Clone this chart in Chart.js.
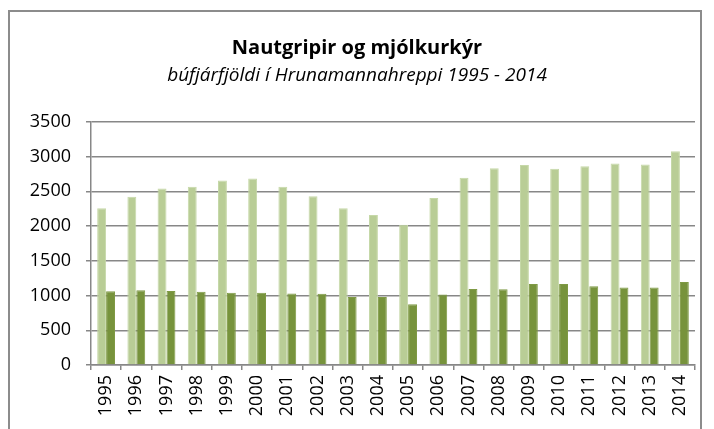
<!DOCTYPE html>
<html>
<head>
<meta charset="utf-8">
<script src="https://cdn.jsdelivr.net/npm/chart.js@4"></script>
<style>
  html, body { margin: 0; padding: 0; background: #fff; }
  #wrap { position: relative; width: 714px; height: 429px; }
  #frame { position: absolute; left: 8px; top: 10px; width: 694px; height: 430px;
           border: 2px solid #8c8c8c; border-bottom: none; box-sizing: border-box; }
  canvas { position: absolute; left: 0; top: 0; }
</style>
</head>
<body>
<div id="wrap">
  <div id="frame"></div>
  <canvas id="chart" width="714" height="429"></canvas>
</div>
<script>
var years = ['1995','1996','1997','1998','1999','2000','2001','2002','2003','2004',
             '2005','2006','2007','2008','2009','2010','2011','2012','2013','2014'];
var nautgripir = [2255, 2420, 2540, 2565, 2655, 2685, 2565, 2430, 2255, 2160,
                  2020, 2405, 2695, 2830, 2880, 2825, 2860, 2900, 2885, 3075];
var mjolkurkyr = [1060, 1075, 1065, 1055, 1040, 1040, 1030, 1025, 980, 980,
                  875, 1015, 1095, 1090, 1165, 1165, 1135, 1115, 1115, 1195];
var yTicks = [0, 500, 1000, 1500, 2000, 2500, 3000, 3500];

var fontFamily = '"Open Sans", "Noto Sans", sans-serif';
var gridColor = '#878787';

document.addEventListener('DOMContentLoaded', function () {
    var ctx = document.getElementById('chart').getContext('2d');
    new Chart(ctx, {
        type: 'bar',
        data: {
            labels: years,
            datasets: [{
                label: 'Nautgripir',
                data: nautgripir,
                backgroundColor: '#b9cd96',
                borderColor: '#c6d8a8',
                borderWidth: 1,
                categoryPercentage: 0.59,
                barPercentage: 1
            }, {
                label: 'Mjólkurkýr',
                data: mjolkurkyr,
                backgroundColor: '#77933c',
                borderColor: '#7f9a45',
                borderWidth: 1,
                categoryPercentage: 0.59,
                barPercentage: 1
            }]
        },
        options: {
            responsive: false,
            animation: false,
            // symmetric side padding keeps the title centred on the frame
            layout: { padding: { left: 19, right: 19, top: 0, bottom: 0 } },
            plugins: {
                legend: { display: false },
                tooltip: { enabled: false },
                title: {
                    display: true,
                    text: 'Nautgripir og mjólkurkýr',
                    color: '#000',
                    font: { family: fontFamily, size: 20, weight: 'bold', lineHeight: 1.2 },
                    padding: { top: 36, bottom: 3 }
                },
                subtitle: {
                    display: true,
                    text: 'búfjárfjöldi í Hrunamannahreppi 1995 - 2014',
                    color: '#000',
                    font: { family: fontFamily, size: 19, style: 'italic', lineHeight: 1.2 },
                    padding: { top: 1, bottom: 35 }
                }
            },
            scales: {
                x: {
                    grid: {
                        drawOnChartArea: false,
                        drawTicks: true,
                        tickLength: 5,
                        color: gridColor,
                        lineWidth: 1.5
                    },
                    border: { color: gridColor, width: 1.5 },
                    ticks: {
                        color: '#000',
                        font: { family: fontFamily, size: 18 },
                        minRotation: 90,
                        maxRotation: 90,
                        padding: 5,
                        autoSkip: false
                    },
                    afterFit: function (scale) { scale.height = 64; }
                },
                y: {
                    min: 0,
                    max: 3500,
                    grid: {
                        color: gridColor,
                        lineWidth: 1.5,
                        tickLength: 5
                    },
                    border: { color: gridColor, width: 1.5 },
                    afterBuildTicks: function (scale) {
                        scale.ticks = yTicks.map(function (v) { return { value: v }; });
                    },
                    ticks: {
                        color: '#000',
                        font: { family: fontFamily, size: 18 },
                        padding: 15,
                        callback: function (value) { return String(value); }
                    },
                    afterFit: function (scale) { scale.width = 72; }
                }
            }
        }
    });
});
</script>
</body>
</html>
